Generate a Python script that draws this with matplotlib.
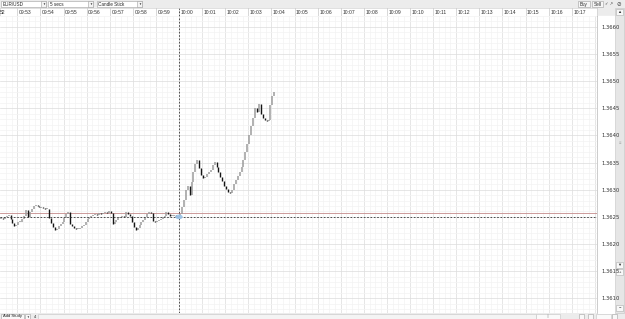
import matplotlib
matplotlib.use('Agg')
import matplotlib.pyplot as plt
from matplotlib.patches import Rectangle, Ellipse
from matplotlib.ticker import MultipleLocator, FixedLocator

W, H = 625, 319
plt.rcParams['font.family'] = ['Liberation Sans', 'DejaVu Sans']

symbol = 'EUR/USD'
bar_size = '5 secs'
chart_type = 'Candle Stick'

# x is minutes after 09:52, one candle every 5 seconds from 09:52:15
first_bar = 0.25
bar_len = 5 / 60
closes = [
    1.36248, 1.36246, 1.36250, 1.36252,
    1.36254, 1.36246, 1.36239, 1.36233, 1.36235, 1.36241, 1.36241, 1.36246, 1.36252, 1.36263,
    1.36250, 1.36259, 1.36265, 1.36270, 1.36272, 1.36270, 1.36268, 1.36268, 1.36267, 1.36265,
    1.36265, 1.36248, 1.36239, 1.36232, 1.36226, 1.36228, 1.36233, 1.36237, 1.36241, 1.36248,
    1.36256, 1.36259, 1.36237, 1.36233, 1.36230, 1.36228, 1.36228, 1.36230, 1.36233, 1.36235,
    1.36241, 1.36246, 1.36250, 1.36252, 1.36254, 1.36256, 1.36254, 1.36257, 1.36256, 1.36257,
    1.36259, 1.36257, 1.36261, 1.36257, 1.36237, 1.36241, 1.36244, 1.36248, 1.36250, 1.36252,
    1.36250, 1.36259, 1.36256, 1.36252, 1.36241, 1.36232, 1.36226, 1.36230, 1.36235, 1.36241,
    1.36244, 1.36250, 1.36256, 1.36259, 1.36257, 1.36243, 1.36241, 1.36243, 1.36244, 1.36246,
    1.36250, 1.36252, 1.36259, 1.36256, 1.36252, 1.36252, 1.36254, 1.36250, 1.36252,
    # 10:00:00 onwards
    1.36256, 1.36268, 1.36281, 1.36300, 1.36307, 1.36290, 1.36314, 1.36333, 1.36348, 1.36355,
    1.36340, 1.36327, 1.36322, 1.36324, 1.36329, 1.36333, 1.36336, 1.36346, 1.36351, 1.36342,
    1.36333, 1.36324, 1.36316, 1.36307, 1.36302, 1.36296, 1.36294, 1.36300, 1.36311, 1.36318,
    1.36325, 1.36333, 1.36342, 1.36355, 1.36370, 1.36384, 1.36401, 1.36417, 1.36432, 1.36451,
    1.36443, 1.36458, 1.36440, 1.36432, 1.36428, 1.36427, 1.36428, 1.36456, 1.36473, 1.36480,
]
minute_labels = ['09:52', '09:53', '09:54', '09:55', '09:56', '09:57', '09:58', '09:59',
                 '10:00', '10:01', '10:02', '10:03', '10:04', '10:05', '10:06', '10:07',
                 '10:08', '10:09', '10:10', '10:11', '10:12', '10:13', '10:14', '10:15',
                 '10:16', '10:17']
price_ticks = [1.3610, 1.3615, 1.3620, 1.3625, 1.3630, 1.3635,
               1.3640, 1.3645, 1.3650, 1.3655, 1.3660]
cross_time = 8.0
cross_price = 1.3625
last_price_line = 1.36257
view_x = (0.251, 26.095)
view_y = (1.36073, 1.36620)


def box(x0, y0, w, h):
    return [x0 / W, 1 - (y0 + h) / H, w / W, h / H]


fig = plt.figure(figsize=(W / 100, H / 100), dpi=100)

# window chrome drawn in pixel coordinates
bg = fig.add_axes([0, 0, 1, 1])
bg.set_xlim(0, W)
bg.set_ylim(H, 0)
bg.axis('off')
bg.add_patch(Rectangle((0, 0), W, H, color='#ececec'))
bg.add_patch(Rectangle((597, 16), 18, 297, color='white'))

edge = '#a0a0a0'
for x0, label in [(1, symbol), (48, bar_size), (97, chart_type)]:
    bg.add_patch(Rectangle((x0, 1), 45, 6, fc='white', ec=edge, lw=0.4))
    bg.add_patch(Rectangle((x0 + 40, 1), 5, 6, fc='#f4f4f4', ec=edge, lw=0.4))
    bg.text(x0 + 1.5, 4.2, label, fontsize=3.3, va='center', color='#222')
    bg.text(x0 + 42.5, 4.2, '▼', fontsize=2.2, ha='center', va='center', color='#333')
for x0, w, label in [(578, 12, 'Buy'), (592, 11, 'Sell')]:
    bg.add_patch(Rectangle((x0, 1), w, 6, fc='#f6f6f6', ec=edge, lw=0.4))
    bg.text(x0 + w / 2, 4.2, label, fontsize=3.3, ha='center', va='center', color='#222')
bg.text(609, 4.2, '✓ ↗', fontsize=3, ha='center', va='center', color='#444')
bg.text(619, 4.2, '⊘', fontsize=4, ha='center', va='center', color='#444')

# right scrollbar
bg.add_patch(Rectangle((615, 8), 9, 305, fc='#e6e6e6', ec='#c4c4c4', lw=0.4))
for y0, sym in [(9, '▲'), (262, '▼'), (269, '+'), (305, '−')]:
    bg.add_patch(Rectangle((616, y0), 7, 6, fc='#f8f8f8', ec='#b0b0b0', lw=0.4))
    bg.text(619.5, y0 + 3.2, sym, fontsize=3, ha='center', va='center', color='#333')
bg.text(619.5, 142, '≡', fontsize=3, ha='center', va='center', color='#999')

# bottom bar
bg.add_patch(Rectangle((38, 314), 498, 4.5, fc='#f4f4f4', ec='#c4c4c4', lw=0.4))
bg.add_patch(Rectangle((1, 313.5), 23, 5.5, fc='#f8f8f8', ec=edge, lw=0.4))
bg.text(12.5, 316.5, 'Add Study', fontsize=3, ha='center', va='center', color='#222')
bg.add_patch(Rectangle((25, 313.5), 5, 5.5, fc='#f8f8f8', ec=edge, lw=0.4))
bg.text(27.5, 316.5, '▼', fontsize=2, ha='center', va='center', color='#333')
bg.text(35, 316.5, '4', fontsize=3, ha='center', va='center', color='#333')
bg.add_patch(Rectangle((536, 314), 24, 4.5, fc='#fafafa', ec='#c4c4c4', lw=0.4))
bg.text(548, 316.5, '|||', fontsize=2.5, ha='center', va='center', color='#aaa')
for x0 in (579, 588, 612):
    bg.add_patch(Rectangle((x0, 314), 5, 4.5, fc='#f8f8f8', ec=edge, lw=0.4))
bg.add_patch(Rectangle((596, 314), 15, 4.5, fc='#fafafa', ec='#c4c4c4', lw=0.4))

# time header row
axt = fig.add_axes(box(0, 8, 597, 8))
axt.set_facecolor('white')
axt.set_xlim(view_x)
axt.set_ylim(0, 1)
axt.set_xticks([])
axt.set_yticks([])
for s in axt.spines.values():
    s.set_color('#c8c8c8')
    s.set_linewidth(0.4)
for m, label in enumerate(minute_labels):
    axt.axvline(m, color='#c8c8c8', lw=0.5)
    x_lab = m + 0.07
    if x_lab < view_x[0]:
        # the first label is scrolled past the left edge, only its minutes show
        label = label[-2:]
        x_lab = view_x[0] + 0.005
    axt.text(x_lab, 0.45, label, fontsize=3.6, va='center', color='#333')
axt.axvline(cross_time, color='#333', lw=0.6, ls=(0, (2, 2)))

# main price pane
ax = fig.add_axes(box(0, 16, 597, 297))
ax.set_facecolor('white')
ax.set_xlim(view_x)
ax.set_ylim(view_y)
ax.xaxis.set_major_locator(MultipleLocator(1))
ax.xaxis.set_minor_locator(MultipleLocator(0.25))
ax.yaxis.set_major_locator(FixedLocator(price_ticks))
ax.yaxis.set_minor_locator(MultipleLocator(0.0001))
ax.grid(which='major', color='#dcdcdc', lw=0.5)
ax.grid(which='minor', color='#f3f3f3', lw=0.5)
ax.set_axisbelow(True)
ax.tick_params(axis='x', which='both', length=0, labelbottom=False)
ax.yaxis.tick_right()
ax.tick_params(axis='y', which='both', length=0, pad=3, labelsize=3.8, labelcolor='#333')
ax.set_yticklabels([f'{p:.4f}' for p in price_ticks], family='DejaVu Sans')
for name, s in ax.spines.items():
    s.set_visible(name == 'right')
ax.spines['right'].set_color('#b8b8b8')
ax.spines['right'].set_linewidth(0.5)

times = [first_bar + bar_len * (i + 0.5) for i in range(len(closes))]
opens = [closes[0]] + closes[:-1]
up_t, up_lo, up_hi, dn_t, dn_lo, dn_hi = [], [], [], [], [], []
for t, o, c in zip(times, opens, closes):
    lo, hi = min(o, c), max(o, c)
    if hi - lo < 0.00002:
        mid = (hi + lo) / 2
        lo, hi = mid - 0.00001, mid + 0.00001
    if c < o:
        dn_t.append(t); dn_lo.append(lo); dn_hi.append(hi)
    else:
        up_t.append(t); up_lo.append(lo); up_hi.append(hi)
ax.vlines(up_t, up_lo, up_hi, color='#9c9c9c', lw=1.1, zorder=3)
ax.vlines(dn_t, dn_lo, dn_hi, color='#151515', lw=1.0, zorder=3)

ax.axhline(last_price_line, color='#c48a8a', lw=0.6, zorder=2)
ax.axhline(cross_price, color='#333', lw=0.6, ls=(0, (2, 2)), zorder=4)
ax.axvline(cross_time, color='#333', lw=0.6, ls=(0, (2, 2)), zorder=4)
ax.add_patch(Ellipse((cross_time, cross_price), 0.26, 0.00006,
                     color='#9cc3e6', alpha=0.9, zorder=5))

plt.savefig('out.png', dpi=100)
